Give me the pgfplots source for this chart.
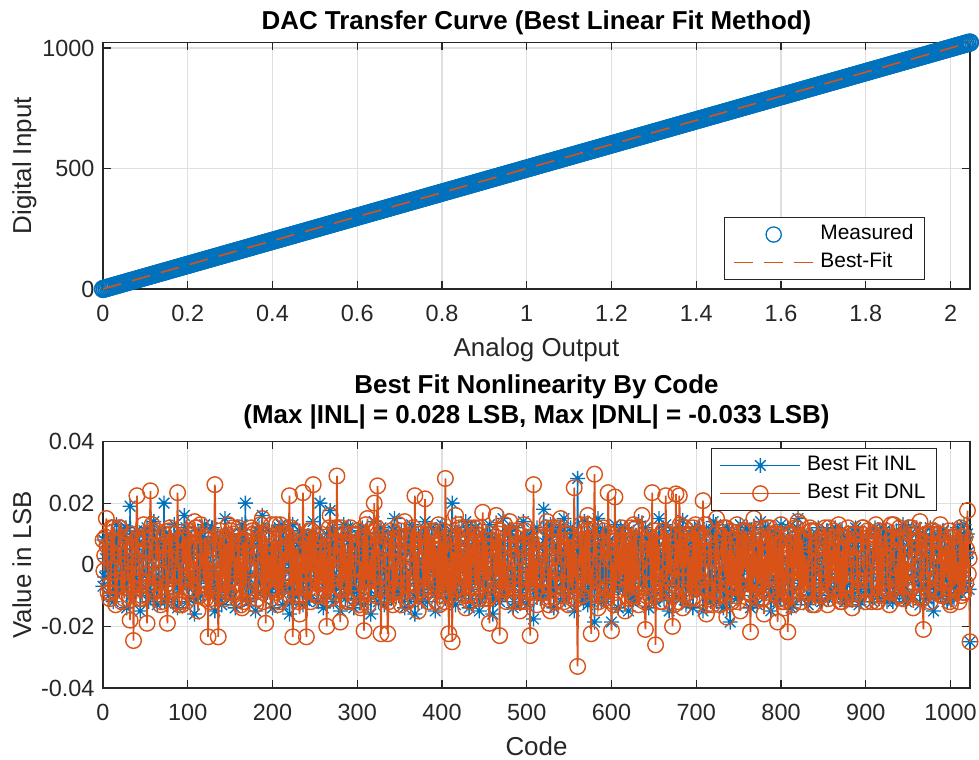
\documentclass[border=0pt]{standalone}
\usepackage{pgfplots}
\pgfplotsset{compat=1.18}
\usepackage{pgfplotstable}
\usepackage{fontspec}
\setmainfont{Liberation Sans}
\definecolor{mblue}{RGB}{0,114,189}
\definecolor{morange}{RGB}{217,83,25}
\definecolor{axgray}{RGB}{38,38,38}
\definecolor{gridgray}{RGB}{223,223,223}

\pgfdeclareplotmark{mstar}{%
  \pgfpathmoveto{\pgfqpoint{-\pgfplotmarksize}{0pt}}\pgfpathlineto{\pgfqpoint{\pgfplotmarksize}{0pt}}%
  \pgfpathmoveto{\pgfqpoint{0pt}{-\pgfplotmarksize}}\pgfpathlineto{\pgfqpoint{0pt}{\pgfplotmarksize}}%
  \pgfpathmoveto{\pgfqpoint{-.7071\pgfplotmarksize}{-.7071\pgfplotmarksize}}\pgfpathlineto{\pgfqpoint{.7071\pgfplotmarksize}{.7071\pgfplotmarksize}}%
  \pgfpathmoveto{\pgfqpoint{-.7071\pgfplotmarksize}{.7071\pgfplotmarksize}}\pgfpathlineto{\pgfqpoint{.7071\pgfplotmarksize}{-.7071\pgfplotmarksize}}%
  \pgfusepathqstroke}

\pgfplotstableread{
code inl dnl
0 -0.007 0.008
1 0.008 -0.002
2 -0.004 0.003
3 0.002 0.009
4 0.009 0.015
5 -0.002 0.006
6 0.006 -0.009
7 -0.010 -0.007
8 0.004 -0.011
9 0.004 -0.009
10 -0.002 0.012
11 0.007 0.001
12 -0.012 0.003
13 -0.009 0.012
14 0.009 -0.001
15 -0.004 -0.013
16 0.013 -0.007
17 0.007 -0.005
18 -0.007 0.007
19 -0.008 0.012
20 -0.003 0.012
21 0.001 0.008
22 0.003 -0.012
23 0.005 -0.005
24 0.010 -0.002
25 -0.006 -0.011
26 0.011 0.005
27 0.012 0.006
28 -0.014 0.009
29 0.003 0.004
30 -0.005 -0.006
31 -0.003 -0.010
32 0.019 -0.018
33 -0.010 -0.007
34 0.001 0.010
35 0.001 0.003
36 -0.006 -0.0246
37 0.009 -0.001
38 -0.009 -0.003
39 -0.007 0.008
40 0.011 0.0224
41 0.002 0.009
42 0.007 0.001
43 0.010 -0.011
44 -0.015 -0.005
45 -0.005 -0.010
46 -0.003 -0.011
47 -0.002 0.004
48 0.002 0.013
49 0.011 0.005
50 0.005 0.008
51 0.006 -0.001
52 0.012 -0.019
53 -0.008 -0.003
54 -0.012 -0.007
55 -0.009 0.010
56 -0.010 0.024
57 -0.003 0.011
58 0.008 0.013
59 0.003 -0.006
60 0.014 -0.009
61 0.006 -0.008
62 -0.001 -0.004
63 -0.005 0.011
64 -0.013 0.004
65 -0.005 0.002
66 0.002 0.006
67 0.011 -0.003
68 0.007 -0.013
69 0.004 -0.012
70 -0.006 -0.010
71 -0.006 0.005
72 0.020 0.010
73 -0.012 0.007
74 0.010 0.002
75 0.004 -0.009
76 -0.011 -0.019
77 0.008 -0.006
78 -0.004 0.011
79 -0.001 0.012
80 0.003 0.006
81 -0.001 0.010
82 0.007 -0.008
83 -0.012 -0.007
84 0.013 -0.003
85 -0.007 -0.004
86 -0.001 0.004
87 0.008 0.002
88 -0.014 0.0234
89 0.010 0.003
90 -0.008 -0.013
91 0.002 -0.012
92 0.008 -0.012
93 -0.003 -0.013
94 0.004 0.009
95 -0.005 0.008
96 0.016 0.001
97 0.005 0.008
98 0.012 -0.002
99 0.009 -0.004
100 -0.012 0.011
101 -0.011 -0.009
102 -0.006 0.007
103 -0.003 0.010
104 0.005 -0.008
105 0.007 -0.002
106 0.003 -0.005
107 -0.007 -0.008
108 -0.016 0.014
109 -0.002 0.012
110 -0.010 0.012
111 0.006 0.001
112 0.011 -0.015
113 -0.004 -0.007
114 0.009 -0.010
115 -0.010 0.013
116 -0.004 0.005
117 0.009 0.005
118 -0.002 0.000
119 0.001 -0.005
120 0.013 0.009
121 0.001 -0.011
122 0.005 0.008
123 0.007 0.006
124 -0.009 -0.0234
125 -0.006 0.001
126 -0.007 -0.012
127 -0.004 -0.011
128 0.012 -0.004
129 0.012 -0.005
130 0.008 0.005
131 -0.002 0.007
132 -0.015 0.026
133 -0.008 0.009
134 -0.003 -0.007
135 0.009 -0.002
136 0.006 -0.0234
137 0.003 -0.010
138 -0.011 0.011
139 -0.008 -0.010
140 -0.013 0.007
141 -0.001 -0.003
142 0.006 -0.002
143 0.005 0.009
144 0.015 -0.011
145 0.010 0.006
146 0.001 -0.009
147 0.003 -0.006
148 -0.007 0.013
149 -0.009 -0.009
150 -0.009 0.004
151 -0.011 0.011
152 0.010 0.000
153 -0.005 0.012
154 0.004 0.010
155 0.006 -0.003
156 -0.014 -0.009
157 0.007 0.002
158 0.007 -0.006
159 -0.001 0.004
160 0.004 0.012
161 -0.003 -0.011
162 -0.005 0.003
163 0.010 -0.013
164 0.013 -0.014
165 0.004 0.007
166 0.010 -0.012
167 -0.006 0.008
168 0.020 0.006
169 -0.011 -0.008
170 -0.002 0.009
171 -0.004 -0.001
172 -0.012 -0.002
173 0.006 -0.001
174 -0.007 -0.001
175 0.008 0.012
176 0.007 0.011
177 0.002 0.010
178 0.003 0.006
179 0.002 -0.009
180 -0.015 -0.013
181 -0.010 -0.006
182 0.011 -0.011
183 -0.009 0.003
184 0.012 0.008
185 0.009 0.004
186 -0.006 0.013
187 0.012 -0.007
188 0.016 0.015
189 -0.004 -0.012
190 0.000 -0.005
191 -0.003 0.010
192 -0.009 -0.019
193 0.001 0.008
194 -0.009 0.002
195 0.005 -0.005
196 0.011 0.003
197 -0.009 -0.002
198 0.005 -0.008
199 -0.007 0.013
200 -0.014 -0.007
201 0.006 0.005
202 0.002 0.007
203 0.001 -0.008
204 0.005 0.013
205 -0.003 -0.009
206 -0.004 -0.013
207 0.011 0.002
208 0.012 -0.012
209 -0.007 0.013
210 0.013 0.010
211 -0.005 -0.011
212 -0.013 0.004
213 0.011 -0.005
214 -0.008 -0.004
215 -0.002 0.006
216 0.008 0.010
217 0.002 0.001
218 0.006 0.001
219 0.009 0.009
220 -0.016 0.0224
221 -0.008 -0.007
222 -0.001 0.012
223 -0.012 -0.004
224 0.013 -0.0234
225 0.005 0.011
226 -0.010 -0.007
227 0.004 0.005
228 -0.006 0.005
229 -0.001 -0.010
230 0.004 0.005
231 0.007 -0.012
232 0.011 -0.016
233 -0.004 0.003
234 0.008 -0.010
235 -0.009 0.001
236 -0.013 0.0234
237 0.010 -0.003
238 -0.003 0.008
239 0.003 -0.007
240 0.009 -0.0234
241 -0.012 0.009
242 -0.006 -0.003
243 -0.001 0.011
244 -0.011 0.009
245 0.003 -0.012
246 0.009 0.011
247 0.010 -0.002
248 0.014 0.026
249 -0.006 0.006
250 0.001 -0.009
251 -0.006 0.008
252 -0.005 -0.010
253 0.008 -0.004
254 -0.012 0.004
255 0.002 -0.010
256 0.020 0.002
257 -0.002 0.010
258 0.007 -0.006
259 -0.008 0.004
260 -0.014 -0.006
261 0.006 -0.008
262 -0.002 0.009
263 0.006 -0.006
264 0.010 -0.020
265 -0.010 0.002
266 -0.005 -0.011
267 -0.003 0.012
268 0.0176 0.016
269 0.001 -0.011
270 0.010 0.003
271 0.012 -0.009
272 -0.012 -0.003
273 -0.003 0.007
274 -0.007 0.012
275 -0.010 0.003
276 0.006 0.0288
277 0.009 -0.001
278 0.003 -0.002
279 0.004 -0.003
280 -0.015 -0.0186
281 -0.007 0.012
282 0.009 -0.008
283 0.001 0.010
284 0.013 0.007
285 -0.004 -0.005
286 -0.011 0.006
287 -0.005 -0.011
288 -0.008 -0.012
289 0.012 0.004
290 0.002 -0.012
291 0.008 0.007
292 0.012 0.012
293 -0.009 -0.009
294 -0.004 0.010
295 -0.002 -0.001
296 -0.014 -0.001
297 0.002 -0.006
298 0.006 -0.001
299 -0.011 0.005
300 0.004 0.010
301 0.005 0.011
302 -0.008 0.007
303 0.007 -0.013
304 0.011 -0.014
305 -0.011 -0.002
306 0.012 -0.005
307 0.003 0.009
308 -0.013 -0.0214
309 -0.001 0.008
310 -0.001 0.013
311 -0.006 -0.005
312 0.009 0.015
313 0.007 -0.013
314 -0.003 -0.009
315 0.009 0.002
316 -0.016 -0.005
317 -0.005 0.005
318 0.005 0.002
319 -0.001 -0.008
320 0.014 0.020
321 0.003 -0.010
322 -0.010 0.011
323 0.004 0.012
324 -0.006 0.0256
325 -0.012 0.007
326 0.008 -0.004
327 -0.009 -0.004
328 0.012 -0.0224
329 0.009 -0.003
330 0.001 0.005
331 0.010 0.006
332 -0.013 0.006
333 -0.002 0.009
334 -0.006 -0.010
335 -0.002 -0.010
336 0.008 -0.0224
337 -0.008 -0.012
338 0.004 0.008
339 -0.006 0.001
340 -0.011 0.011
341 0.004 0.001
342 0.011 -0.013
343 0.011 0.008
344 0.015 -0.009
345 0.006 -0.008
346 -0.009 0.001
347 -0.004 -0.007
348 -0.009 0.003
349 -0.010 0.013
350 0.002 0.009
351 0.003 0.011
352 0.011 -0.013
353 0.001 -0.004
354 -0.003 -0.006
355 -0.007 -0.002
356 -0.014 0.014
357 -0.006 0.003
358 0.007 0.004
359 0.005 -0.012
360 0.007 -0.006
361 0.011 -0.011
362 -0.012 -0.011
363 0.009 0.009
364 0.013 0.008
365 -0.003 0.006
366 0.005 0.012
367 -0.010 -0.006
368 -0.016 0.0224
369 -0.005 -0.009
370 0.000 -0.003
371 0.001 0.003
372 0.010 -0.015
373 0.008 0.010
374 -0.007 0.006
375 -0.003 0.010
376 -0.012 0.004
377 -0.009 0.002
378 0.010 -0.008
379 0.008 -0.009
380 0.014 0.0214
381 0.002 -0.007
382 -0.002 0.010
383 -0.012 0.005
384 -0.007 -0.012
385 0.004 0.011
386 0.006 -0.002
387 0.006 -0.001
388 0.012 0.009
389 -0.007 -0.006
390 -0.008 0.007
391 -0.001 0.011
392 -0.015 -0.003
393 -0.001 0.005
394 0.003 -0.012
395 -0.009 -0.005
396 0.005 0.013
397 0.010 -0.013
398 0.012 0.005
399 0.004 0.007
400 0.013 -0.010
401 -0.006 -0.001
402 -0.004 0.011
403 0.002 -0.012
404 -0.011 0.028
405 0.007 0.008
406 -0.001 -0.009
407 -0.007 0.002
408 0.009 -0.0224
409 0.003 -0.010
410 0.008 0.003
411 0.011 0.009
412 0.020 -0.025
413 -0.009 0.004
414 -0.010 -0.005
415 -0.005 -0.008
416 -0.013 0.016
417 0.005 -0.008
418 0.005 0.009
419 0.003 0.013
420 0.011 -0.007
421 -0.002 0.012
422 -0.006 -0.001
423 -0.010 -0.003
424 -0.008 0.005
425 -0.008 -0.002
426 0.002 -0.010
427 0.007 0.004
428 0.014 -0.014
429 0.012 0.007
430 0.009 0.008
431 0.001 -0.010
432 -0.014 0.012
433 0.001 -0.012
434 -0.011 -0.007
435 -0.008 0.006
436 0.006 -0.001
437 -0.004 0.009
438 0.004 0.012
439 0.012 -0.007
440 0.012 0.010
441 0.006 -0.005
442 -0.005 -0.004
443 -0.004 0.012
444 -0.015 -0.011
445 -0.011 0.003
446 0.007 0.001
447 0.005 -0.002
448 0.010 0.017
449 0.005 -0.011
450 -0.003 0.006
451 -0.006 0.008
452 -0.010 -0.005
453 -0.003 0.006
454 0.010 -0.011
455 0.003 -0.011
456 0.013 -0.019
457 0.009 -0.010
458 -0.007 0.010
459 0.008 0.003
460 -0.016 0.008
461 -0.006 0.001
462 0.001 -0.003
463 -0.011 -0.005
464 0.008 0.016
465 0.002 -0.004
466 0.006 0.004
467 0.005 0.010
468 -0.012 -0.023
469 -0.010 0.011
470 -0.009 -0.008
471 -0.002 -0.009
472 0.015 0.002
473 0.007 -0.008
474 -0.002 0.013
475 -0.009 0.001
476 -0.006 -0.012
477 -0.001 -0.003
478 0.011 -0.006
479 0.010 0.007
480 0.011 0.014
481 0.003 0.010
482 -0.005 0.002
483 -0.003 -0.004
484 -0.014 -0.008
485 -0.012 -0.006
486 0.003 -0.012
487 0.006 0.011
488 0.012 0.011
489 -0.005 0.005
490 0.008 0.007
491 -0.001 -0.008
492 -0.009 -0.015
493 0.008 -0.012
494 -0.012 -0.002
495 -0.007 0.005
496 0.014 0.006
497 0.004 0.013
498 0.004 0.011
499 0.009 -0.012
500 -0.013 -0.004
501 -0.007 -0.001
502 -0.001 -0.009
503 -0.004 0.009
504 0.007 -0.023
505 0.010 0.007
506 0.009 0.005
507 0.002 -0.006
508 -0.0176 0.026
509 -0.002 -0.009
510 -0.006 -0.004
511 -0.008 0.002
512 0.012 -0.013
513 0.006 0.004
514 0.002 0.009
515 -0.004 0.003
516 -0.011 0.003
517 -0.009 -0.005
518 -0.010 -0.007
519 0.006 -0.009
520 0.018 -0.009
521 0.001 0.009
522 0.007 0.001
523 -0.002 0.012
524 -0.008 0.014
525 -0.004 -0.011
526 -0.004 -0.013
527 0.009 -0.001
528 0.013 -0.015
529 0.012 0.002
530 -0.008 0.012
531 -0.007 0.007
532 -0.014 0.007
533 -0.008 -0.007
534 0.005 -0.005
535 0.003 -0.012
536 0.010 -0.002
537 -0.003 0.012
538 0.012 0.006
539 0.011 0.005
540 -0.012 0.015
541 0.005 -0.002
542 -0.003 -0.010
543 -0.005 -0.006
544 0.015 -0.012
545 -0.011 0.006
546 0.001 0.003
547 0.001 0.010
548 -0.007 0.010
549 0.002 -0.013
550 -0.007 0.008
551 -0.009 -0.003
552 0.012 -0.006
553 0.009 0.008
554 0.010 -0.011
555 0.007 0.001
556 -0.015 0.025
557 -0.006 -0.004
558 -0.002 0.004
559 -0.003 -0.011
560 0.028 -0.033
561 -0.001 0.003
562 0.006 -0.001
563 0.005 0.008
564 -0.010 0.013
565 0.007 -0.010
566 -0.009 0.010
567 -0.012 -0.007
568 0.014 -0.008
569 -0.010 0.011
570 0.003 -0.006
571 0.008 0.013
572 -0.013 0.016
573 0.003 -0.006
574 -0.005 0.011
575 -0.001 -0.004
576 0.009 -0.0224
577 -0.007 -0.001
578 0.011 -0.003
579 0.002 0.006
580 -0.0186 0.0294
581 0.005 0.004
582 -0.006 0.005
583 -0.006 -0.010
584 0.015 -0.014
585 -0.004 -0.012
586 0.004 -0.009
587 0.010 0.002
588 -0.012 0.005
589 0.011 0.007
590 -0.001 0.012
591 -0.004 0.011
592 0.011 -0.011
593 -0.009 -0.008
594 -0.012 -0.007
595 0.007 -0.008
596 -0.009 0.0234
597 -0.002 0.010
598 0.008 0.002
599 -0.001 0.004
600 -0.0186 -0.0214
601 0.006 0.001
602 0.002 -0.012
603 -0.008 -0.013
604 0.013 0.022
605 -0.005 -0.009
606 -0.005 0.008
607 0.004 0.009
608 -0.014 -0.004
609 0.010 0.005
610 0.009 -0.004
611 0.012 -0.002
612 0.008 0.012
613 -0.008 -0.003
614 -0.003 0.010
615 -0.006 0.007
616 0.012 -0.015
617 0.001 0.009
618 -0.007 -0.008
619 0.003 -0.005
620 -0.015 0.008
621 0.004 -0.011
622 0.006 0.001
623 -0.010 0.012
624 0.010 -0.010
625 -0.012 -0.005
626 -0.010 0.013
627 0.009 -0.010
628 -0.011 0.003
629 -0.003 0.012
630 0.001 -0.005
631 -0.002 0.000
632 0.014 -0.013
633 0.008 -0.007
634 0.007 0.006
635 0.005 0.008
636 -0.006 0.016
637 -0.006 0.002
638 -0.004 -0.011
639 -0.007 -0.012
640 0.012 -0.021
641 0.002 -0.010
642 -0.002 0.007
643 0.008 0.005
644 -0.014 0.009
645 -0.010 0.008
646 0.009 -0.002
647 -0.003 -0.007
648 0.009 0.0234
649 0.007 -0.006
650 -0.008 -0.010
651 -0.011 0.011
652 -0.012 -0.026
653 0.000 0.003
654 0.005 0.009
655 0.006 -0.002
656 0.015 0.006
657 -0.005 -0.012
658 0.003 -0.006
659 0.001 -0.009
660 -0.008 -0.012
661 0.012 0.011
662 -0.011 0.011
663 -0.009 0.004
664 0.013 0.0224
665 -0.007 -0.004
666 0.006 -0.003
667 0.004 0.010
668 -0.015 -0.003
669 0.003 0.006
670 -0.001 0.004
671 0.007 -0.006
672 0.011 -0.020
673 -0.002 -0.009
674 0.010 -0.013
675 -0.005 0.003
676 -0.010 0.023
677 0.009 -0.001
678 -0.006 0.008
679 0.010 -0.012
680 0.012 0.0224
681 -0.011 0.013
682 -0.004 -0.001
683 -0.002 0.009
684 0.0144 -0.014
685 -0.004 -0.008
686 0.008 0.012
687 -0.007 -0.001
688 -0.013 0.007
689 0.006 0.010
690 0.002 -0.009
691 0.003 0.006
692 0.010 -0.011
693 -0.001 -0.005
694 -0.009 0.003
695 0.011 -0.011
696 -0.014 0.012
697 -0.008 0.004
698 0.012 -0.007
699 -0.006 0.013
700 0.007 -0.005
701 0.010 -0.011
702 -0.003 0.010
703 0.000 -0.005
704 0.012 0.010
705 -0.005 -0.002
706 0.005 -0.005
707 -0.009 0.002
708 -0.015 0.0208
709 0.003 0.009
710 -0.007 0.013
711 0.005 -0.008
712 0.011 -0.016
713 0.001 -0.013
714 0.001 -0.008
715 0.002 0.007
716 -0.009 0.004
717 -0.012 0.005
718 0.011 0.002
719 -0.004 -0.013
720 0.014 -0.009
721 0.008 -0.007
722 -0.005 -0.011
723 0.013 0.010
724 -0.012 0.015
725 -0.006 0.001
726 -0.002 0.006
727 -0.008 -0.004
728 0.008 -0.013
729 0.004 -0.010
730 0.009 0.009
731 0.006 0.001
732 -0.014 0.002
733 -0.002 0.012
734 -0.012 -0.004
735 -0.001 0.012
736 0.012 -0.017
737 0.011 -0.006
738 0.004 0.005
739 -0.010 -0.007
740 -0.0186 0.011
741 -0.009 0.008
742 0.007 -0.012
743 0.004 0.005
744 0.010 -0.007
745 -0.003 0.002
746 -0.009 0.001
747 0.008 -0.010
748 -0.011 0.013
749 0.007 -0.012
750 0.003 -0.007
751 -0.003 0.008
752 0.013 -0.015
753 -0.010 -0.003
754 -0.001 0.011
755 -0.006 -0.003
756 -0.007 0.006
757 0.005 0.011
758 0.010 -0.002
759 0.009 0.011
760 0.012 -0.002
761 0.002 -0.009
762 -0.006 0.008
763 0.001 -0.009
764 -0.014 -0.0218
765 -0.007 0.006
766 0.002 -0.010
767 -0.012 0.004
768 0.009 0.015
769 0.012 -0.004
770 -0.008 0.004
771 0.007 -0.006
772 -0.013 -0.011
773 -0.001 0.009
774 0.006 -0.006
775 -0.002 0.009
776 0.014 0.008
777 -0.009 -0.011
778 -0.003 0.012
779 -0.005 -0.011
780 -0.008 -0.016
781 0.006 0.003
782 0.012 -0.009
783 0.010 0.003
784 0.011 0.012
785 0.003 -0.008
786 -0.010 0.003
787 -0.007 0.012
788 -0.015 -0.004
789 -0.008 0.010
790 0.004 -0.003
791 0.003 -0.002
792 0.010 0.009
793 -0.004 -0.005
794 0.001 0.010
795 0.009 -0.008
796 -0.012 -0.0186
797 0.010 0.007
798 -0.005 -0.011
799 -0.011 0.006
800 0.013 0.013
801 0.001 -0.012
802 0.008 0.007
803 0.002 -0.012
804 -0.009 -0.014
805 -0.006 -0.001
806 -0.002 -0.001
807 -0.004 0.010
808 0.012 -0.0218
809 0.008 0.004
810 -0.011 0.005
811 0.006 -0.001
812 -0.014 0.010
813 -0.013 -0.010
814 0.007 -0.013
815 -0.008 0.007
816 0.008 -0.006
817 0.004 0.012
818 0.003 0.009
819 0.012 -0.005
820 0.015 0.014
821 -0.002 -0.007
822 -0.006 -0.005
823 -0.001 0.013
824 -0.011 -0.012
825 -0.005 0.008
826 0.009 0.002
827 -0.003 -0.009
828 0.010 0.003
829 0.009 -0.002
830 -0.001 -0.008
831 0.005 0.002
832 -0.013 -0.009
833 0.000 0.005
834 0.004 0.012
835 -0.010 0.011
836 0.009 0.011
837 0.006 -0.013
838 -0.009 -0.004
839 0.008 -0.004
840 -0.010 -0.013
841 -0.011 0.011
842 0.010 0.006
843 0.001 0.005
844 0.012 0.007
845 -0.003 -0.006
846 -0.002 -0.010
847 -0.006 -0.010
848 -0.012 -0.001
849 0.007 0.001
850 -0.006 0.001
851 0.004 0.008
852 0.008 0.012
853 0.002 -0.009
854 0.011 0.008
855 0.011 -0.013
856 -0.011 -0.011
857 -0.010 0.012
858 -0.004 -0.007
859 -0.009 0.001
860 0.010 0.005
861 0.005 -0.003
862 0.003 0.011
863 0.002 0.009
864 0.012 -0.008
865 -0.007 0.006
866 -0.007 -0.002
867 -0.003 -0.006
868 -0.009 0.013
869 -0.004 -0.010
870 0.005 -0.012
871 0.007 0.004
872 0.011 -0.012
873 0.009 -0.004
874 0.009 0.009
875 -0.012 -0.011
876 -0.012 0.002
877 -0.001 0.009
878 -0.010 -0.006
879 0.005 0.012
880 0.007 0.010
881 -0.006 0.002
882 0.001 0.003
883 0.000 -0.003
884 -0.010 -0.014
885 0.011 -0.011
886 -0.003 0.010
887 -0.007 0.006
888 0.012 0.006
889 0.003 0.007
890 0.008 -0.009
891 0.010 -0.008
892 -0.013 -0.005
893 -0.008 -0.005
894 -0.012 0.005
895 -0.002 0.010
896 0.009 0.012
897 0.007 0.012
898 0.006 -0.001
899 0.006 -0.002
900 -0.008 -0.012
901 -0.005 -0.008
902 -0.001 0.011
903 -0.008 0.007
904 0.011 0.009
905 0.002 0.000
906 -0.009 -0.005
907 0.003 -0.012
908 -0.012 -0.003
909 -0.009 0.010
910 0.004 0.007
911 0.012 0.005
912 0.010 0.013
913 0.010 -0.012
914 0.002 -0.012
915 -0.004 0.011
916 -0.011 -0.010
917 -0.003 0.005
918 -0.007 0.002
919 -0.001 -0.009
920 0.012 0.004
921 0.006 -0.007
922 0.011 0.009
923 0.008 0.003
924 -0.007 0.011
925 -0.012 0.002
926 -0.005 -0.008
927 -0.010 -0.005
928 0.010 -0.013
929 -0.004 -0.009
930 0.003 0.013
931 0.005 0.009
932 -0.012 0.007
933 0.008 0.013
934 -0.010 -0.003
935 -0.006 -0.001
936 0.011 -0.007
937 0.001 -0.004
938 0.007 0.004
939 0.002 -0.010
940 -0.009 0.012
941 -0.007 0.008
942 0.001 -0.010
943 0.009 0.008
944 0.013 -0.011
945 0.004 -0.011
946 -0.008 0.006
947 -0.011 -0.007
948 -0.012 0.001
949 -0.010 -0.002
950 0.012 -0.007
951 0.004 0.012
952 0.008 0.010
953 0.006 0.010
954 -0.004 0.012
955 -0.005 -0.004
956 -0.010 -0.014
957 -0.002 -0.006
958 0.005 -0.002
959 0.007 0.001
960 0.012 0.008
961 0.001 0.004
962 -0.006 0.008
963 -0.003 0.006
964 -0.013 0.014
965 -0.008 -0.010
966 0.003 -0.011
967 0.010 -0.011
968 0.010 -0.021
969 0.008 0.007
970 0.008 0.003
971 -0.007 0.010
972 -0.011 0.005
973 -0.005 -0.008
974 -0.011 -0.005
975 0.001 -0.003
976 0.012 -0.012
977 0.003 0.011
978 0.005 0.010
979 0.006 0.004
980 -0.015 0.011
981 -0.007 -0.001
982 -0.002 -0.009
983 -0.009 -0.008
984 0.009 -0.004
985 0.009 0.003
986 -0.009 0.001
987 -0.002 0.010
988 -0.010 0.013
989 -0.001 -0.010
990 0.010 0.007
991 0.011 -0.006
992 0.011 -0.010
993 0.005 0.006
994 -0.003 -0.004
995 -0.005 0.002
996 -0.012 0.006
997 -0.011 -0.005
998 0.006 0.011
999 0.003 -0.012
1000 0.008 -0.013
1001 -0.003 0.009
1002 -0.001 -0.008
1003 0.008 0.007
1004 -0.011 0.009
1005 0.007 -0.007
1006 -0.007 0.005
1007 -0.009 -0.002
1008 0.012 -0.006
1009 -0.009 0.001
1010 0.009 -0.012
1011 0.004 0.011
1012 -0.009 0.012
1013 0.002 -0.010
1014 -0.004 0.009
1015 -0.001 -0.009
1016 0.013 -0.009
1017 -0.006 0.009
1018 0.002 -0.006
1019 0.009 0.005
1020 0.010 0.0176
1021 0.004 -0.003
1022 -0.008 0.002
1023 -0.025 -0.025
}\nonlin

\pgfplotsset{
  mstyle/.style={
    scale only axis, width=867bp, height=246.5bp,
    enlargelimits=false, clip=false, clip marker paths=true,
    axis line style={draw=axgray, line width=1.1bp},
    tick style={draw=axgray, line width=1.1bp},
    major tick length=8bp, tick align=inside,
    xtick pos=both, ytick pos=both,
    grid=major, major grid style={draw=gridgray, line width=1.1bp},
    tick label style={font=\fontsize{23.5}{28}\selectfont, text=axgray},
    xticklabel style={yshift=-13bp},
    yticklabel style={xshift=-5bp},
    label style={font=\fontsize{26}{30}\selectfont, text=axgray},
    xlabel style={at={(axis description cs:0.5,-0.2746)}, anchor=base},
    ylabel style={at={(axis description cs:-0.0830,0.5)}, anchor=base},
    title style={font=\fontsize{26}{30}\selectfont\bfseries, text=black,
      at={(axis description cs:0.5,1)}, anchor=south, inner sep=0pt, align=center},
    scaled ticks=false,
    legend style={draw=axgray, line width=0.9bp, fill=white,
      font=\fontsize{21}{25}\selectfont, text=black,
      inner xsep=8bp, inner ysep=3bp, column sep=3bp, row sep=0bp,
      nodes={inner xsep=3bp, inner ysep=4bp, text height=15bp, text depth=5bp}},
    legend cell align=left,
  }
}

\begin{document}
\begin{tikzpicture}
\begin{axis}[mstyle, at={(103bp,471bp)}, anchor=south west,
  xmin=0, xmax=2.046, ymin=0, ymax=1023,
  xtick={0,0.2,0.4,0.6,0.8,1,1.2,1.4,1.6,1.8,2},
  xticklabels={0,0.2,0.4,0.6,0.8,1,1.2,1.4,1.6,1.8,2},
  ytick={0,500,1000}, yticklabels={0,500,1000},
  xlabel={Analog Output}, ylabel={Digital Input},
  title={DAC Transfer Curve (Best Linear Fit Method)},
  title style={yshift=1.5bp},
  legend style={at={(axis description cs:0.948,0.0365)}, anchor=south east},
]
\addplot[only marks, mark=o, mblue, line width=1.6bp, mark size=8.4bp,
  legend image code/.code={\path[draw=none] (0bp,0bp) -- (80bp,0bp);
    \draw[mblue, line width=1.3bp] (40bp,0bp) circle[radius=7.6bp];}]
coordinates {
(0,0) (0.004,2) (0.008,4) (0.012,6) (0.016,8) (0.02,10) (0.024,12) (0.028,14)
(0.032,16) (0.036,18) (0.04,20) (0.044,22) (0.048,24) (0.052,26) (0.056,28) (0.06,30)
(0.064,32) (0.068,34) (0.072,36) (0.076,38) (0.08,40) (0.084,42) (0.088,44) (0.092,46)
(0.096,48) (0.1,50) (0.104,52) (0.108,54) (0.112,56) (0.116,58) (0.12,60) (0.124,62)
(0.128,64) (0.132,66) (0.136,68) (0.14,70) (0.144,72) (0.148,74) (0.152,76) (0.156,78)
(0.16,80) (0.164,82) (0.168,84) (0.172,86) (0.176,88) (0.18,90) (0.184,92) (0.188,94)
(0.192,96) (0.196,98) (0.2,100) (0.204,102) (0.208,104) (0.212,106) (0.216,108) (0.22,110)
(0.224,112) (0.228,114) (0.232,116) (0.236,118) (0.24,120) (0.244,122) (0.248,124) (0.252,126)
(0.256,128) (0.26,130) (0.264,132) (0.268,134) (0.272,136) (0.276,138) (0.28,140) (0.284,142)
(0.288,144) (0.292,146) (0.296,148) (0.3,150) (0.304,152) (0.308,154) (0.312,156) (0.316,158)
(0.32,160) (0.324,162) (0.328,164) (0.332,166) (0.336,168) (0.34,170) (0.344,172) (0.348,174)
(0.352,176) (0.356,178) (0.36,180) (0.364,182) (0.368,184) (0.372,186) (0.376,188) (0.38,190)
(0.384,192) (0.388,194) (0.392,196) (0.396,198) (0.4,200) (0.404,202) (0.408,204) (0.412,206)
(0.416,208) (0.42,210) (0.424,212) (0.428,214) (0.432,216) (0.436,218) (0.44,220) (0.444,222)
(0.448,224) (0.452,226) (0.456,228) (0.46,230) (0.464,232) (0.468,234) (0.472,236) (0.476,238)
(0.48,240) (0.484,242) (0.488,244) (0.492,246) (0.496,248) (0.5,250) (0.504,252) (0.508,254)
(0.512,256) (0.516,258) (0.52,260) (0.524,262) (0.528,264) (0.532,266) (0.536,268) (0.54,270)
(0.544,272) (0.548,274) (0.552,276) (0.556,278) (0.56,280) (0.564,282) (0.568,284) (0.572,286)
(0.576,288) (0.58,290) (0.584,292) (0.588,294) (0.592,296) (0.596,298) (0.6,300) (0.604,302)
(0.608,304) (0.612,306) (0.616,308) (0.62,310) (0.624,312) (0.628,314) (0.632,316) (0.636,318)
(0.64,320) (0.644,322) (0.648,324) (0.652,326) (0.656,328) (0.66,330) (0.664,332) (0.668,334)
(0.672,336) (0.676,338) (0.68,340) (0.684,342) (0.688,344) (0.692,346) (0.696,348) (0.7,350)
(0.704,352) (0.708,354) (0.712,356) (0.716,358) (0.72,360) (0.724,362) (0.728,364) (0.732,366)
(0.736,368) (0.74,370) (0.744,372) (0.748,374) (0.752,376) (0.756,378) (0.76,380) (0.764,382)
(0.768,384) (0.772,386) (0.776,388) (0.78,390) (0.784,392) (0.788,394) (0.792,396) (0.796,398)
(0.8,400) (0.804,402) (0.808,404) (0.812,406) (0.816,408) (0.82,410) (0.824,412) (0.828,414)
(0.832,416) (0.836,418) (0.84,420) (0.844,422) (0.848,424) (0.852,426) (0.856,428) (0.86,430)
(0.864,432) (0.868,434) (0.872,436) (0.876,438) (0.88,440) (0.884,442) (0.888,444) (0.892,446)
(0.896,448) (0.9,450) (0.904,452) (0.908,454) (0.912,456) (0.916,458) (0.92,460) (0.924,462)
(0.928,464) (0.932,466) (0.936,468) (0.94,470) (0.944,472) (0.948,474) (0.952,476) (0.956,478)
(0.96,480) (0.964,482) (0.968,484) (0.972,486) (0.976,488) (0.98,490) (0.984,492) (0.988,494)
(0.992,496) (0.996,498) (1,500) (1.004,502) (1.008,504) (1.012,506) (1.016,508) (1.02,510)
(1.024,512) (1.028,514) (1.032,516) (1.036,518) (1.04,520) (1.044,522) (1.048,524) (1.052,526)
(1.056,528) (1.06,530) (1.064,532) (1.068,534) (1.072,536) (1.076,538) (1.08,540) (1.084,542)
(1.088,544) (1.092,546) (1.096,548) (1.1,550) (1.104,552) (1.108,554) (1.112,556) (1.116,558)
(1.12,560) (1.124,562) (1.128,564) (1.132,566) (1.136,568) (1.14,570) (1.144,572) (1.148,574)
(1.152,576) (1.156,578) (1.16,580) (1.164,582) (1.168,584) (1.172,586) (1.176,588) (1.18,590)
(1.184,592) (1.188,594) (1.192,596) (1.196,598) (1.2,600) (1.204,602) (1.208,604) (1.212,606)
(1.216,608) (1.22,610) (1.224,612) (1.228,614) (1.232,616) (1.236,618) (1.24,620) (1.244,622)
(1.248,624) (1.252,626) (1.256,628) (1.26,630) (1.264,632) (1.268,634) (1.272,636) (1.276,638)
(1.28,640) (1.284,642) (1.288,644) (1.292,646) (1.296,648) (1.3,650) (1.304,652) (1.308,654)
(1.312,656) (1.316,658) (1.32,660) (1.324,662) (1.328,664) (1.332,666) (1.336,668) (1.34,670)
(1.344,672) (1.348,674) (1.352,676) (1.356,678) (1.36,680) (1.364,682) (1.368,684) (1.372,686)
(1.376,688) (1.38,690) (1.384,692) (1.388,694) (1.392,696) (1.396,698) (1.4,700) (1.404,702)
(1.408,704) (1.412,706) (1.416,708) (1.42,710) (1.424,712) (1.428,714) (1.432,716) (1.436,718)
(1.44,720) (1.444,722) (1.448,724) (1.452,726) (1.456,728) (1.46,730) (1.464,732) (1.468,734)
(1.472,736) (1.476,738) (1.48,740) (1.484,742) (1.488,744) (1.492,746) (1.496,748) (1.5,750)
(1.504,752) (1.508,754) (1.512,756) (1.516,758) (1.52,760) (1.524,762) (1.528,764) (1.532,766)
(1.536,768) (1.54,770) (1.544,772) (1.548,774) (1.552,776) (1.556,778) (1.56,780) (1.564,782)
(1.568,784) (1.572,786) (1.576,788) (1.58,790) (1.584,792) (1.588,794) (1.592,796) (1.596,798)
(1.6,800) (1.604,802) (1.608,804) (1.612,806) (1.616,808) (1.62,810) (1.624,812) (1.628,814)
(1.632,816) (1.636,818) (1.64,820) (1.644,822) (1.648,824) (1.652,826) (1.656,828) (1.66,830)
(1.664,832) (1.668,834) (1.672,836) (1.676,838) (1.68,840) (1.684,842) (1.688,844) (1.692,846)
(1.696,848) (1.7,850) (1.704,852) (1.708,854) (1.712,856) (1.716,858) (1.72,860) (1.724,862)
(1.728,864) (1.732,866) (1.736,868) (1.74,870) (1.744,872) (1.748,874) (1.752,876) (1.756,878)
(1.76,880) (1.764,882) (1.768,884) (1.772,886) (1.776,888) (1.78,890) (1.784,892) (1.788,894)
(1.792,896) (1.796,898) (1.8,900) (1.804,902) (1.808,904) (1.812,906) (1.816,908) (1.82,910)
(1.824,912) (1.828,914) (1.832,916) (1.836,918) (1.84,920) (1.844,922) (1.848,924) (1.852,926)
(1.856,928) (1.86,930) (1.864,932) (1.868,934) (1.872,936) (1.876,938) (1.88,940) (1.884,942)
(1.888,944) (1.892,946) (1.896,948) (1.9,950) (1.904,952) (1.908,954) (1.912,956) (1.916,958)
(1.92,960) (1.924,962) (1.928,964) (1.932,966) (1.936,968) (1.94,970) (1.944,972) (1.948,974)
(1.952,976) (1.956,978) (1.96,980) (1.964,982) (1.968,984) (1.972,986) (1.976,988) (1.98,990)
(1.984,992) (1.988,994) (1.992,996) (1.996,998) (2,1000) (2.004,1002) (2.008,1004) (2.012,1006)
(2.016,1008) (2.02,1010) (2.024,1012) (2.028,1014) (2.032,1016) (2.036,1018) (2.04,1020) (2.044,1022)
(2.046,1023)
};
\addlegendentry{Measured}
\addplot[morange, line width=1.6bp, dash pattern=on 19bp off 11bp, no marks,
  legend image code/.code={\draw[morange, line width=1.5bp, dash pattern=on 19bp off 11bp] (0bp,0bp) -- (80bp,0bp);}]
coordinates {(0,0) (2.046,1023)};
\addlegendentry{Best-Fit}
\end{axis}

\begin{axis}[mstyle, at={(103bp,72bp)}, anchor=south west,
  xmin=0, xmax=1023, ymin=-0.04, ymax=0.04,
  xtick={0,100,200,300,400,500,600,700,800,900,1000},
  xticklabels={0,100,200,300,400,500,600,700,800,900,1000},
  ytick={-0.04,-0.02,0,0.02,0.04},
  yticklabels={-0.04,-0.02,0,0.02,0.04},
  xlabel={Code}, ylabel={Value in LSB},
  title={Best Fit Nonlinearity By Code\\(Max |INL| = 0.028 LSB, Max |DNL| = -0.033 LSB)},
  title style={yshift=6bp},
  legend style={at={(axis description cs:0.962,0.9735)}, anchor=north east},
]
\addplot[mblue, line width=1.5bp, mark=mstar, mark size=7.5bp, mark options={line width=1.3bp},
  legend image code/.code={\draw[mblue, line width=1.3bp, mark=mstar, mark size=7.5bp, mark indices={2}] plot coordinates {(0bp,0bp) (40bp,0bp) (80bp,0bp)};}]
  table[x=code, y=inl] {\nonlin};
\addlegendentry{Best Fit INL}
\addplot[morange, line width=1.7bp, mark=o, mark size=7.8bp, mark options={line width=1.4bp},
  legend image code/.code={\draw[morange, line width=1.3bp, mark=o, mark size=7.6bp, mark indices={2}] plot coordinates {(0bp,0bp) (40bp,0bp) (80bp,0bp)};}]
  table[x=code, y=dnl] {\nonlin};
\addlegendentry{Best Fit DNL}
\end{axis}
\pgfresetboundingbox
\path[use as bounding box] (0,0) rectangle (979bp,760bp);
\end{tikzpicture}
\end{document}
